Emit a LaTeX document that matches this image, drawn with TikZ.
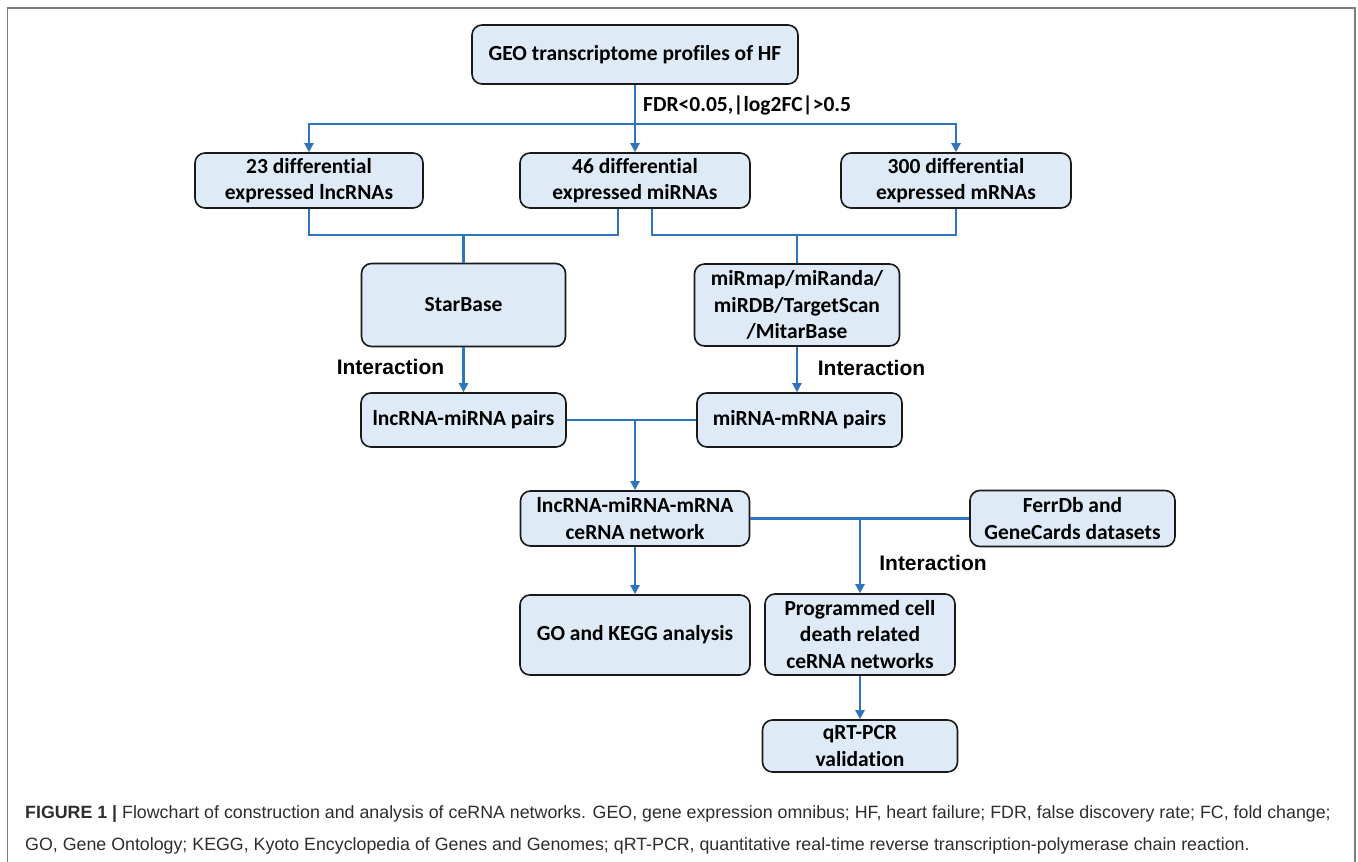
\documentclass[tikz,border=0pt]{standalone}
\usepackage{fontspec}
\setmainfont{Liberation Sans}
\newfontfamily\boxfont[Ligatures={NoCommon}]{Carlito}
\usetikzlibrary{arrows.meta,calc}
\definecolor{boxfill}{RGB}{222,234,246}
\definecolor{conn}{RGB}{46,117,190}
\definecolor{framec}{RGB}{125,125,125}
\definecolor{captext}{RGB}{45,45,45}
\begin{document}
\begin{tikzpicture}[x=1pt,y=-1pt,
  flow/.style={draw=black!90, line width=1.6pt, fill=boxfill, rounded corners=10pt,
    align=center, font=\boxfont\bfseries\fontsize{21.5}{26.5}\selectfont, inner sep=0pt},
  link/.style={draw=conn, line width=2.8pt},
  arr/.style={link, -{Triangle[length=9pt,width=9pt]}},
  lab/.style={font=\bfseries\fontsize{21}{25}\selectfont, inner sep=0pt},
]
\useasboundingbox (0,0) rectangle (1358,862);
\draw[framec, line width=1.5pt] (7.5,862) -- (7.5,8) -- (1355,8) -- (1355,862);

% boxes
\node[flow, minimum width=326pt, minimum height=59pt] (geo) at (635,54.5) {GEO transcriptome profiles of HF};
\node[flow, minimum width=228pt, minimum height=55pt] (d23) at (309,180.5) {23 differential\\expressed lncRNAs};
\node[flow, minimum width=230pt, minimum height=55pt] (d46) at (635,180.5) {46 differential\\expressed miRNAs};
\node[flow, minimum width=230pt, minimum height=55pt] (d300) at (956,180.5) {300 differential\\expressed mRNAs};
\node[flow, minimum width=204pt, minimum height=83pt] (starbase) at (463.5,305) {StarBase};
\node[flow, minimum width=205pt, minimum height=82pt] (mirmap) at (797,305) {miRmap/miRanda/\\miRDB/TargetScan\\/MitarBase};
\node[flow, minimum width=205pt, minimum height=54pt] (pairsL) at (463.5,420) {lncRNA-miRNA pairs};
\node[flow, minimum width=205pt, minimum height=54pt] (pairsR) at (799.5,420) {miRNA-mRNA pairs};
\node[flow, minimum width=229pt, minimum height=55pt] (cerna) at (635,518.5) {lncRNA-miRNA-mRNA\\ceRNA network};
\node[flow, minimum width=205pt, minimum height=56pt] (ferr) at (1072.5,518.5) {FerrDb and\\GeneCards datasets};
\node[flow, minimum width=230pt, minimum height=80pt] (go) at (635,635) {GO and KEGG analysis};
\node[flow, minimum width=190pt, minimum height=81pt] (prog) at (860,634.5) {Programmed cell\\death related\\ceRNA networks};
\node[flow, minimum width=195pt, minimum height=52pt] (qrt) at (860,746) {qRT-PCR\\validation};

% labels
\node[font=\boxfont\bfseries\fontsize{21.5}{25}\selectfont, anchor=west, inner sep=0pt] (fdr) at (643,105) {FDR<0.05,|log2FC|>0.5};
\node[lab] (int1) at (390.5,367) {Interaction};
\node[lab] (int2) at (871.5,368) {Interaction};
\node[lab] (int3) at (933,563) {Interaction};

% junction coordinates
\coordinate (s1) at (635,124);
\coordinate (jL) at (463.5,235);
\coordinate (jR) at (797,235);
\coordinate (j2) at (635,420);
\coordinate (j3) at (860,518.5);

% connectors
\draw[link] (geo.south) -- (s1);
\draw[arr] (s1) -| (d23.north);
\draw[arr] (s1) -- (d46.north);
\draw[arr] (s1) -| (d300.north);

\draw[link] (d23.south) |- (jL) -| ([xshift=-17pt]d46.south);
\draw[link] (jL) -- (starbase.north);
\draw[link] ([xshift=17pt]d46.south) |- (jR) -| (d300.south);
\draw[link] (jR) -- (mirmap.north);

\draw[arr] (starbase.south) -- (pairsL.north);
\draw[arr] (mirmap.south) -- (mirmap.south |- pairsR.north);

\draw[link] (pairsL.east) -- (pairsR.west);
\draw[arr] (j2) -- (cerna.north);

\draw[link] (cerna.east) -- (ferr.west);
\draw[arr] (cerna.south) -- (go.north);
\draw[arr] (j3) -- (prog.north);
\draw[arr] (prog.south) -- (qrt.north);

% caption
\node[anchor=west, inner sep=0pt, text=captext, font=\fontsize{17.8}{22}\selectfont] (cap1) at (25,814)
  {\textbf{FIGURE 1 |} Flowchart of construction and analysis of ceRNA networks. GEO, gene expression omnibus; HF, heart failure; FDR, false discovery rate; FC, fold change;};
\node[anchor=west, inner sep=0pt, text=captext, font=\fontsize{17.8}{22}\selectfont] (cap2) at (25,846)
  {GO, Gene Ontology; KEGG, Kyoto Encyclopedia of Genes and Genomes; qRT-PCR, quantitative real-time reverse transcription-polymerase chain reaction.};
\end{tikzpicture}
\end{document}
